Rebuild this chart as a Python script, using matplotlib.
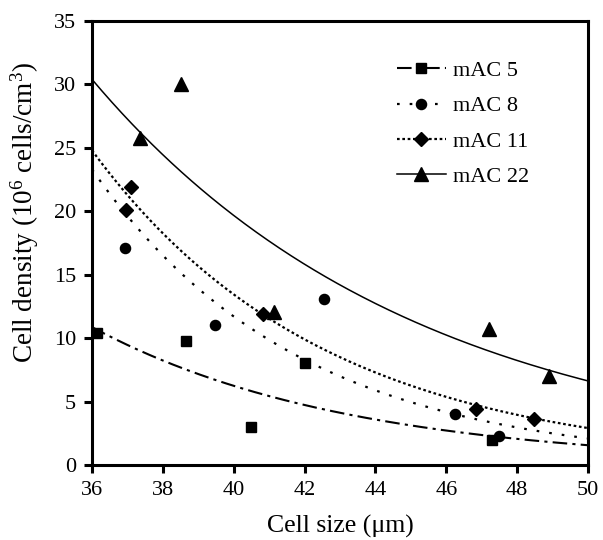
import matplotlib
matplotlib.use("Agg")
import matplotlib.pyplot as plt
import numpy as np

plt.rcParams['font.family'] = ['Liberation Serif', 'DejaVu Serif']
plt.rcParams['mathtext.fontset'] = 'custom'
plt.rcParams['mathtext.rm'] = 'Liberation Serif'
plt.rcParams['mathtext.default'] = 'regular'

# data
series = ["mAC 5", "mAC 8", "mAC 11", "mAC 22"]
mac5_x = [36.15, 38.64, 40.5, 42.02, 47.28]
mac5_y = [10.4, 9.74, 3.0, 8.05, 1.98]
mac8_x = [36.94, 39.46, 42.55, 46.25, 47.5]
mac8_y = [17.1, 11.0, 13.1, 4.05, 2.25]
mac11_x = [36.95, 37.1, 40.84, 46.85, 48.48]
mac11_y = [20.13, 21.9, 11.9, 4.4, 3.65]
mac22_x = [37.35, 38.5, 41.15, 47.2, 48.9]
mac22_y = [25.8, 30.0, 12.1, 10.75, 7.0]

# exponential trend lines y = a*exp(-b*(x-36))
trend_a = [10.87, 23.3, 24.8, 30.4]
trend_b = [0.1387, 0.172, 0.153, 0.1088]

xs_all = [mac5_x, mac8_x, mac11_x, mac22_x]
ys_all = [mac5_y, mac8_y, mac11_y, mac22_y]
markers = ['s', 'o', 'D', '^']
msizes = [7.8, 7.3, 7.6, 10.0]
dash_styles = [(0, (7, 2.5, 1.5, 2.5)), (0, (1.2, 4.5)), (0, (1.2, 1.2)), '-']
lws = [1.5, 1.6, 1.6, 1.1]

fig = plt.figure(figsize=(6.03, 5.40), dpi=100)
ax = fig.add_axes([92/603, 1 - 465/540, 496/603, 444/540])

xfit = np.linspace(36, 50, 300)
for i, name in enumerate(series):
    yfit = trend_a[i] * np.exp(-trend_b[i] * (xfit - 36))
    ax.plot(xfit, yfit, color='black', linestyle=dash_styles[i], lw=lws[i])
    ax.plot(xs_all[i], ys_all[i], linestyle='none', marker=markers[i],
            markersize=msizes[i], color='black', clip_on=False)
    ax.plot([], [], color='black', linestyle=dash_styles[i], lw=lws[i],
            marker=markers[i], markersize=msizes[i], label=name)

ax.set_xlim(36, 50)
ax.set_ylim(0, 35)
ax.set_xticks(np.arange(36, 51, 2))
ax.set_yticks(np.arange(0, 36, 5))
for s in ax.spines.values():
    s.set_linewidth(2.2)
ax.tick_params(direction='out', length=5.5, width=2.2, labelsize=16, pad=6)
ax.set_xlabel('Cell size (μm)', fontsize=18.5)
ax.xaxis.label.set_va('baseline')
ax.xaxis.set_label_coords(0.5, (465 - 533) / 444)
ax.set_ylabel(r'Cell density (10$^{6}$ cells/cm$^{3}$)', fontsize=19.5)
ax.yaxis.label.set_va('center')
ax.yaxis.set_label_coords((25 - 92) / 496, 0.5687)

h, l = ax.get_legend_handles_labels()
leg = ax.legend(h, l, loc='upper left', bbox_to_anchor=(0.615, 0.911),
                frameon=False, fontsize=16, handlelength=2.2,
                handletextpad=0.3, labelspacing=0.66, borderpad=0,
                borderaxespad=0)

fig.savefig('out.png', dpi=100)
